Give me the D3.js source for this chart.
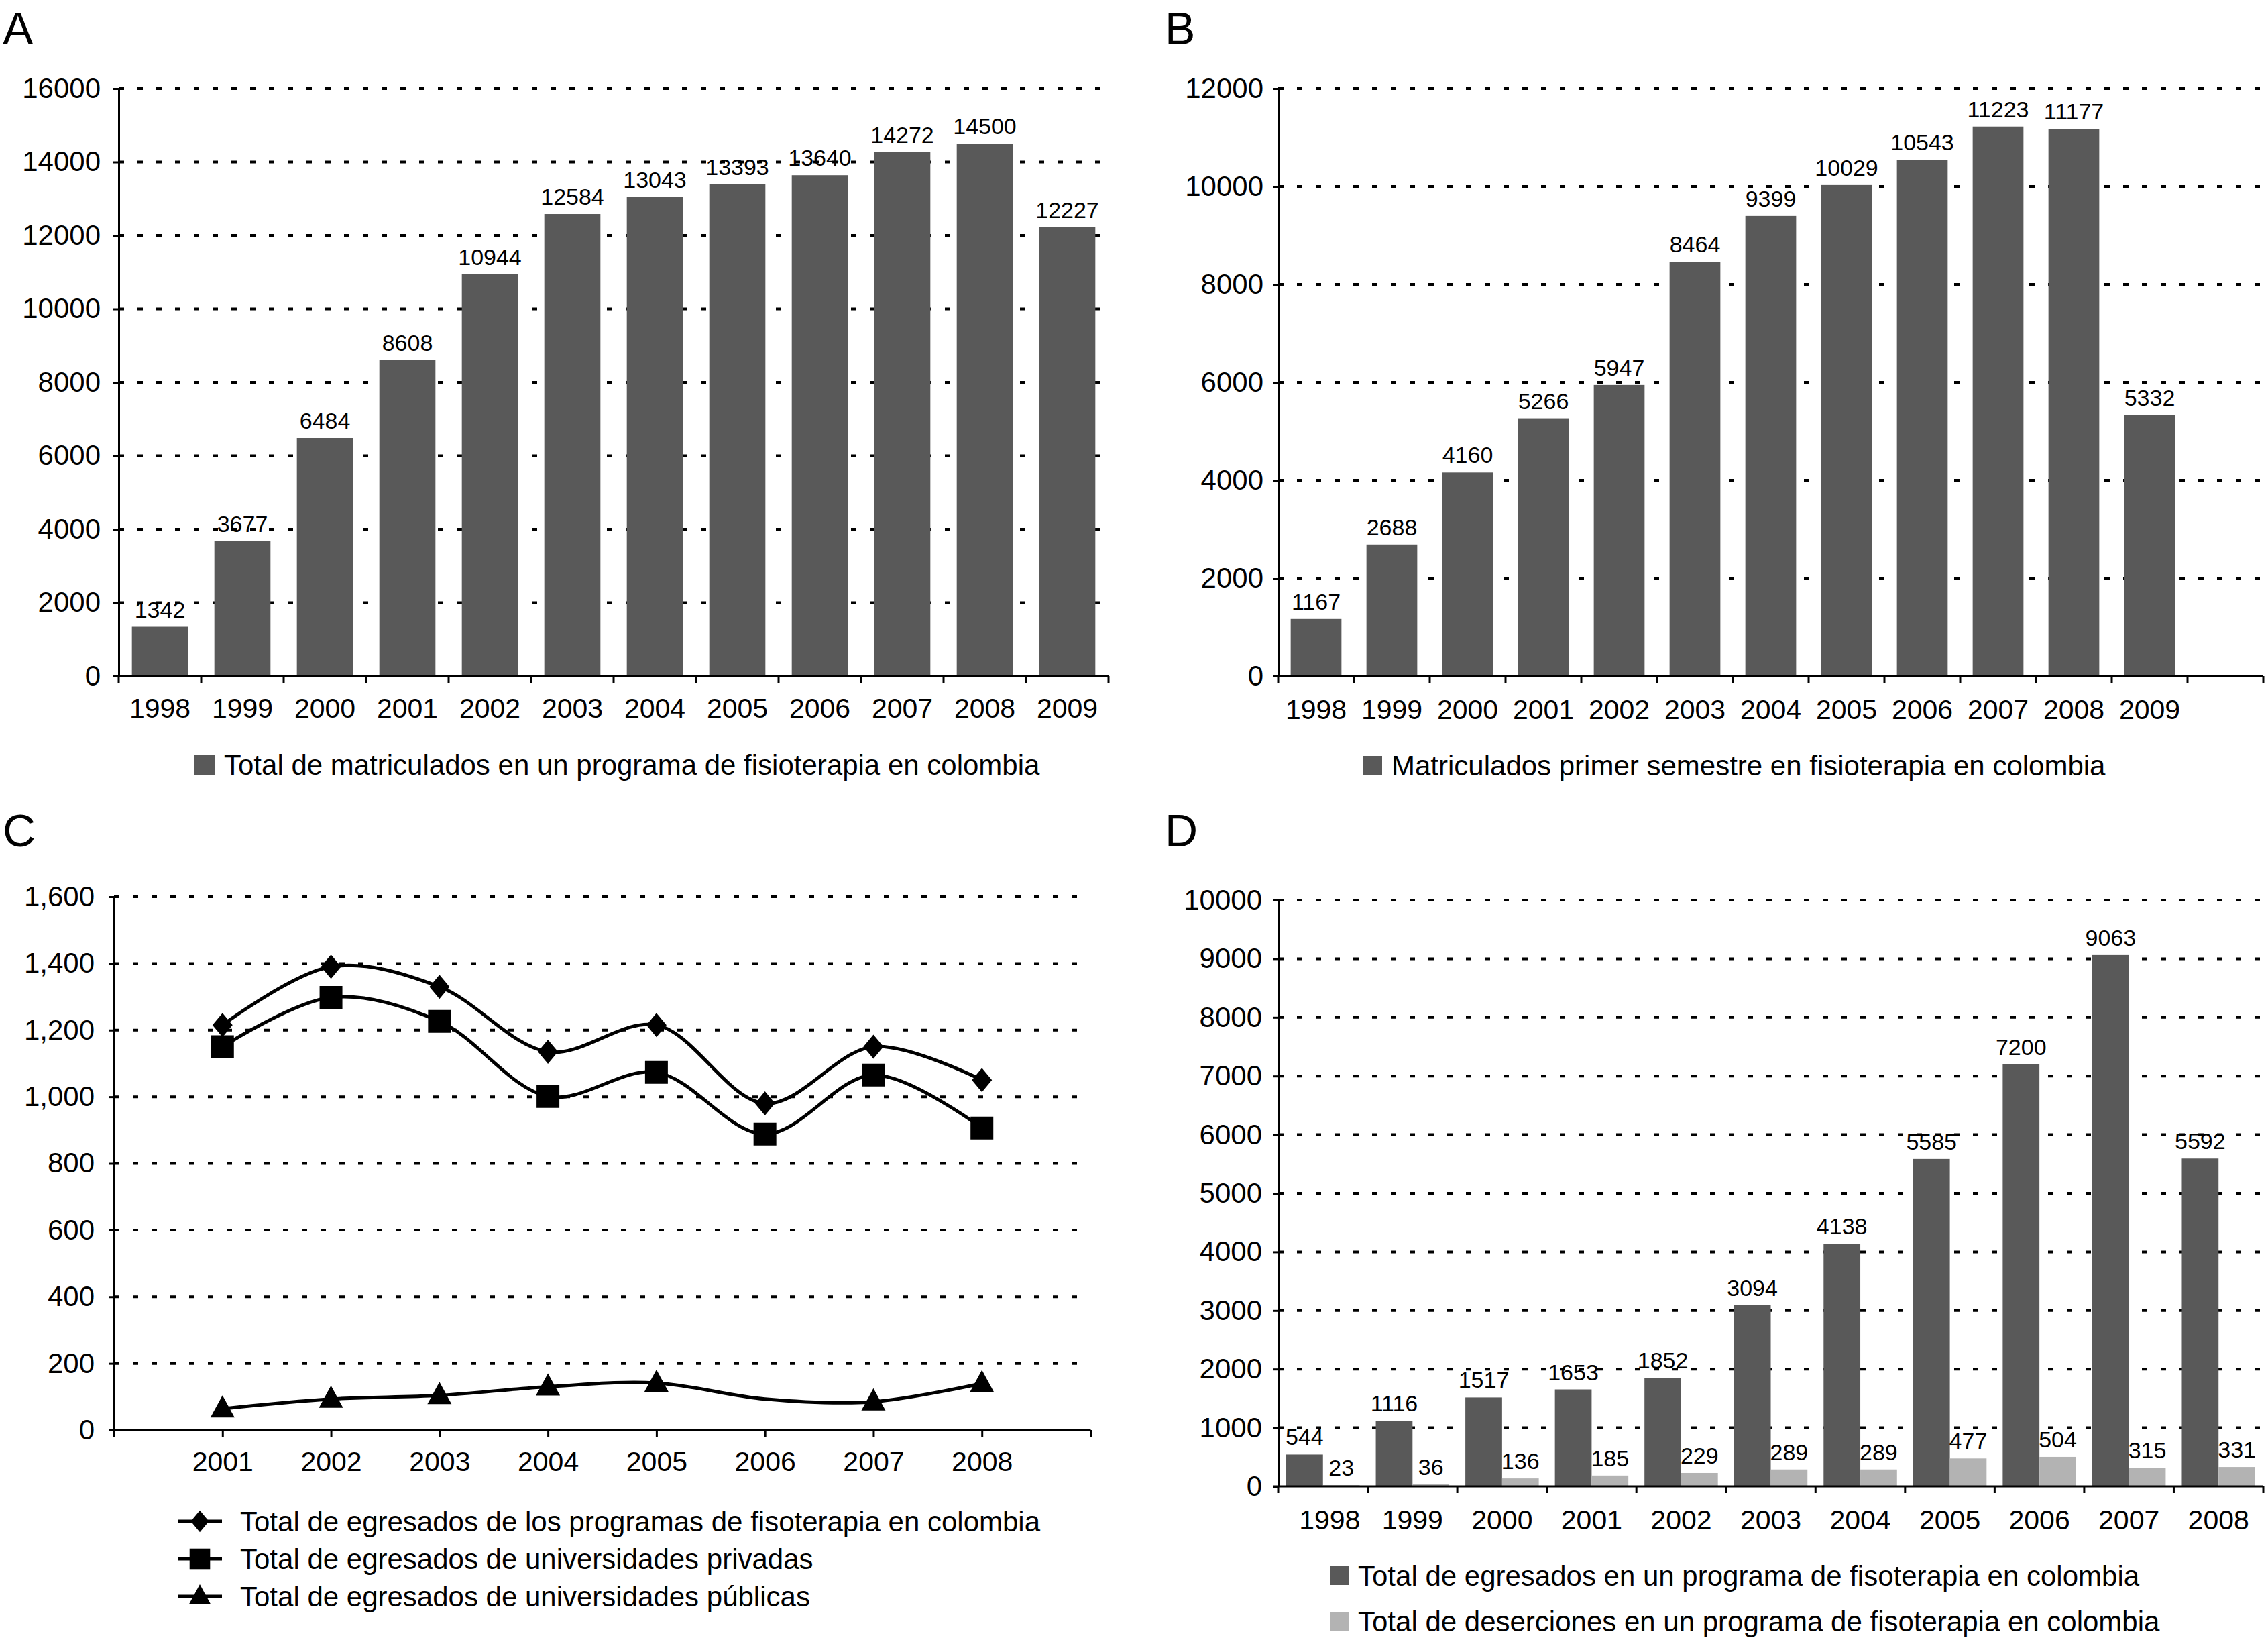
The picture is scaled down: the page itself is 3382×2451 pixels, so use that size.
<!DOCTYPE html>
<html>
<head>
<meta charset="utf-8">
<script src="https://d3js.org/d3.v7.min.js"></script>
<style>
  body { margin: 0; background: #fff; }
  svg text { font-family: "Liberation Sans", Arial, sans-serif; fill: #000; }
</style>
</head>
<body>
<svg id="chart" width="3382" height="2451"></svg>
<script>
// ---- data ----
const yearsA = ["1998", "1999", "2000", "2001", "2002", "2003", "2004", "2005", "2006", "2007", "2008", "2009"];
const matriculados = [1342, 3677, 6484, 8608, 10944, 12584, 13043, 13393, 13640, 14272, 14500, 12227];

const yearsB = ["1998", "1999", "2000", "2001", "2002", "2003", "2004", "2005", "2006", "2007", "2008", "2009"];
const primerSemestre = [1167, 2688, 4160, 5266, 5947, 8464, 9399, 10029, 10543, 11223, 11177, 5332];

const yearsC = [2001, 2002, 2003, 2004, 2005, 2006, 2007, 2008];
const egresadosTotal = [1215, 1390, 1330, 1135, 1215, 980, 1150, 1050];
const egresadosPrivadas = [1150, 1298, 1226, 1001, 1073, 888, 1065, 906];
const egresadosPublicas = [64, 93, 104, 130, 141, 93, 85, 140];
const publicasSinMarcador = [2006];

const yearsD = ["1998", "1999", "2000", "2001", "2002", "2003", "2004", "2005", "2006", "2007", "2008"];
const egresados = [544, 1116, 1517, 1653, 1852, 3094, 4138, 5585, 7200, 9063, 5592];
const deserciones = [23, 36, 136, 185, 229, 289, 289, 477, 504, 315, 331];

// ---- setup ----
const svg = d3.select("#chart");
const dark = "#595959", light = "#b3b3b3";
const tickFont = 42, yearFont = 41, valueFont = 34, legendFont = 42;

function panelLetter(txt, x, y) {
  svg.append("text").attr("x", x).attr("y", y).attr("font-size", 68).text(txt);
}

function grid(g, y, ticks, x0, x1) {
  g.selectAll("line.grid").data(ticks.filter(d => d > 0)).join("line")
    .attr("class", "grid")
    .attr("x1", x0).attr("x2", x1)
    .attr("y1", d => y(d)).attr("y2", d => y(d))
    .attr("stroke", "#000").attr("stroke-width", 4)
    .attr("stroke-dasharray", "8,20");
}

function leftAxis(g, y, x0, ticks, fmt, pad) {
  const ax = g.append("g").attr("transform", `translate(${x0},0)`)
    .call(d3.axisLeft(y).tickValues(ticks).tickFormat(fmt).tickSize(8).tickSizeOuter(0).tickPadding(pad));
  ax.select(".domain").attr("stroke-width", 3);
  ax.selectAll(".tick line").attr("stroke-width", 3);
  ax.selectAll("text").attr("font-size", tickFont).attr("font-family", null).attr("fill", "#000");
}

function barPanel(o) {
  const g = svg.append("g");
  const y = d3.scaleLinear().domain([0, o.max]).range([o.yBottom, o.yTop]);
  const x = d3.scaleBand().domain(o.cats).range([o.x0, o.x1])
    .paddingInner(o.pad).paddingOuter(o.pad / 2);
  const ticks = d3.range(0, o.max + 1, o.step);

  grid(g, y, ticks, o.x0, o.x1);

  const sub = d3.scaleBand().domain(o.series.map((s, i) => i)).range([0, x.bandwidth()]);

  o.series.forEach((s, i) => {
    const data = s.values.map((v, j) => ({ cat: o.cats[j], v: v }));
    g.selectAll(null).data(data).join("rect")
      .attr("x", d => x(d.cat) + sub(i))
      .attr("width", sub.bandwidth())
      .attr("y", d => y(d.v))
      .attr("height", d => y(0) - y(d.v))
      .attr("fill", s.color);
    g.selectAll(null).data(data).join("text")
      .attr("x", d => x(d.cat) + sub(i) + sub.bandwidth() / 2)
      .attr("y", d => y(d.v) - 14)
      .attr("text-anchor", "middle")
      .attr("font-size", valueFont)
      .text(d => d.v);
  });

  leftAxis(g, y, o.x0, ticks, d3.format("d"), o.tickPad);

  // x axis line and ticks at category boundaries
  g.append("line").attr("x1", o.x0 - 8).attr("x2", o.x1)
    .attr("y1", y(0)).attr("y2", y(0)).attr("stroke", "#000").attr("stroke-width", 3);
  const half = x.step() * x.paddingInner() / 2;
  const bounds = o.cats.map(c => x(c) - half).concat([o.x1]);
  g.selectAll(null).data(bounds).join("line")
    .attr("x1", d => d).attr("x2", d => d)
    .attr("y1", y(0)).attr("y2", y(0) + 10)
    .attr("stroke", "#000").attr("stroke-width", 3);

  g.selectAll(null).data(o.cats.filter(c => c !== "")).join("text")
    .attr("x", (d, i) => x(d) + x.bandwidth() / 2 + (i === 0 ? o.firstShift || 0 : 0))
    .attr("y", y(0) + o.yearOff)
    .attr("text-anchor", "middle")
    .attr("font-size", yearFont)
    .text(d => d);

  o.legend.forEach(l => {
    g.append("rect").attr("x", l.x).attr("y", l.y - l.size / 2)
      .attr("width", l.size).attr("height", l.size).attr("fill", l.color);
    g.append("text").attr("x", l.x + l.size + 14).attr("y", l.y)
      .attr("dy", "0.36em").attr("font-size", legendFont).text(l.label);
  });
}

// ---- panel A ----
panelLetter("A", 4, 66);
barPanel({
  x0: 177, x1: 1653, yTop: 132, yBottom: 1008, max: 16000, step: 2000,
  cats: yearsA, pad: 0.32, tickPad: 19, yearOff: 62,
  series: [{ values: matriculados, color: dark }],
  legend: [{ x: 290, y: 1140, size: 30, color: dark,
    label: "Total de matriculados en un programa de fisioterapia en colombia" }]
});

// ---- panel B ----
panelLetter("B", 1737, 66);
barPanel({
  x0: 1906, x1: 3375, yTop: 132, yBottom: 1008, max: 12000, step: 2000,
  cats: yearsB.concat([""]), pad: 0.33, tickPad: 14, yearOff: 64,
  series: [{ values: primerSemestre, color: dark }],
  legend: [{ x: 2033, y: 1141, size: 28, color: dark,
    label: "Matriculados primer semestre en fisioterapia en colombia" }]
});

// ---- panel D ----
panelLetter("D", 1737, 1262);
barPanel({
  x0: 1906, x1: 3375, yTop: 1342, yBottom: 2216, max: 10000, step: 1000,
  cats: yearsD, pad: 0.18, tickPad: 16, yearOff: 64, firstShift: 10,
  series: [{ values: egresados, color: dark }, { values: deserciones, color: light }],
  legend: [
    { x: 1983, y: 2349, size: 28, color: dark,
      label: "Total de egresados en un programa de fisoterapia en colombia" },
    { x: 1983, y: 2417, size: 28, color: light,
      label: "Total de deserciones en un programa de fisoterapia en colombia" }
  ]
});

// ---- panel C ----
panelLetter("C", 4, 1262);
(function () {
  const g = svg.append("g");
  const x0 = 170, x1 = 1626, yTop = 1337, yBottom = 2132;
  const x = d3.scaleLinear().domain([2000, 2009]).range([x0, x1]);
  const y = d3.scaleLinear().domain([0, 1600]).range([yBottom, yTop]);
  const ticks = d3.range(0, 1601, 200);

  grid(g, y, ticks, x0, x1);
  leftAxis(g, y, x0, ticks, d3.format(","), 21);

  const xa = g.append("g").attr("transform", `translate(0,${yBottom})`)
    .call(d3.axisBottom(x).tickValues(d3.range(2000, 2010)).tickSize(10).tickSizeOuter(0)
      .tickPadding(22).tickFormat(d => (yearsC.includes(d) ? d : "")));
  xa.select(".domain").attr("stroke-width", 3);
  xa.selectAll(".tick line").attr("stroke-width", 3);
  xa.selectAll("text").attr("font-size", yearFont).attr("font-family", null).attr("fill", "#000");

  const markers = {
    diamond: "M0,-18L15,0L0,18L-15,0Z",
    square: "M-17,-17H17V17H-17Z",
    triangle: "M0,-20L18,13H-18Z"
  };

  const series = [
    { values: egresadosTotal, marker: "diamond", skip: [],
      label: "Total de egresados de los programas de fisoterapia en colombia" },
    { values: egresadosPrivadas, marker: "square", skip: [],
      label: "Total de egresados de universidades privadas" },
    { values: egresadosPublicas, marker: "triangle", skip: publicasSinMarcador,
      label: "Total de egresados de universidades públicas" }
  ];

  const line = d3.line().x(d => x(d.year)).y(d => y(d.v)).curve(d3.curveCatmullRom.alpha(0.5));

  series.forEach((s, i) => {
    const data = yearsC.map((yr, j) => ({ year: yr, v: s.values[j] }));
    g.append("path").datum(data).attr("d", line)
      .attr("fill", "none").attr("stroke", "#000").attr("stroke-width", 5);
    g.selectAll(null).data(data.filter(d => !s.skip.includes(d.year))).join("path")
      .attr("d", markers[s.marker])
      .attr("transform", d => `translate(${x(d.year)},${y(d.v)})`)
      .attr("fill", "#000");

    const ly = 2268 + i * 56;
    g.append("line").attr("x1", 266).attr("x2", 331).attr("y1", ly).attr("y2", ly)
      .attr("stroke", "#000").attr("stroke-width", 5);
    g.append("path").attr("d", markers[s.marker])
      .attr("transform", `translate(298,${ly}) scale(0.9)`).attr("fill", "#000");
    g.append("text").attr("x", 358).attr("y", ly).attr("dy", "0.36em")
      .attr("font-size", legendFont).text(s.label);
  });
})();
</script>
</body>
</html>
